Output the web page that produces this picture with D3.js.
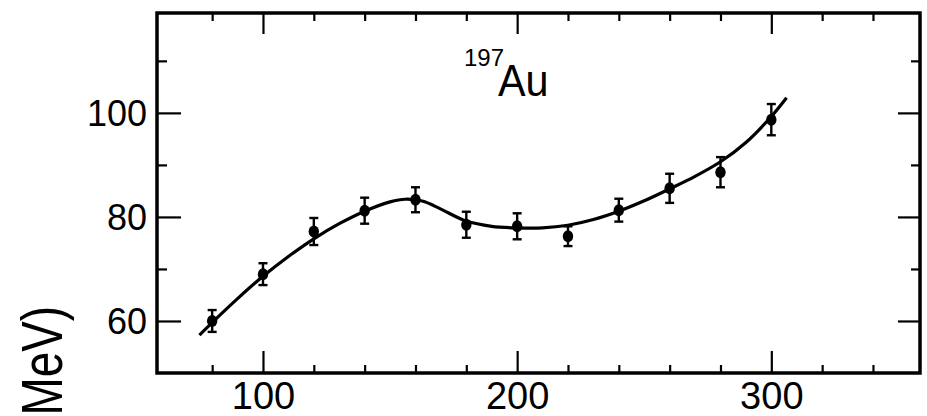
<!DOCTYPE html>
<html>
<head>
<script src="https://cdn.jsdelivr.net/npm/d3@7"></script>
<style>
  body { margin: 0; background: #fff; }
  text { font-family: "Liberation Sans", Arial, sans-serif; fill: #000; }
</style>
</head>
<body>
<script>
// measured points (x, value, error)
var xs   = [80, 100, 120, 140, 160, 180, 200, 220, 240, 260, 280, 300];
var vals = [60.0, 69.0, 77.2, 81.2, 83.3, 78.5, 78.2, 76.3, 81.3, 85.5, 88.6, 98.7];
var errs = [2.1, 2.1, 2.6, 2.5, 2.4, 2.5, 2.5, 1.9, 2.2, 2.8, 2.9, 3.0];

// fitted curve
var curveX = [75, 80, 90, 100, 110, 120, 130, 140, 150, 156, 163, 170, 180, 190, 200, 210, 220, 230, 240, 250, 260, 270, 280, 290, 300, 306];
var curveY = [57.3, 59.7, 64.3, 68.6, 72.4, 75.8, 78.7, 81.1, 82.9, 83.4, 83.0, 81.5, 79.2, 78.2, 77.9, 77.9, 78.4, 79.5, 81.1, 83.1, 85.4, 87.8, 90.6, 94.3, 99.3, 102.9];

var xTicks = [80, 100, 120, 140, 160, 180, 200, 220, 240, 260, 280, 300, 320, 340];
var xMajor = [100, 200, 300];
var yTicks = [60, 70, 80, 90, 100, 110];
var yMajor = [60, 80, 100];

var width = 927, height = 416;
var padL = 157, padR = 920, padT = 13, padB = 373;

var svg = d3.select("body").append("svg")
  .attr("width", width)
  .attr("height", height);

var x = d3.scaleLinear().domain([58.3, 358.5]).range([padL, padR]);
var y = d3.scaleLinear().domain([50, 119.2]).range([padB, padT]);

function styleAxis(g, majors, big, small, labels) {
  g.select(".domain").remove();
  g.selectAll(".tick line")
    .attr("stroke", "#000")
    .attr("stroke-width", 2.2);
  g.selectAll(".tick").each(function(d) {
    var len = majors.indexOf(d) >= 0 ? big : small;
    var ln = d3.select(this).select("line");
    if (ln.attr("y2") != null && +ln.attr("y2") !== 0) ln.attr("y2", (+ln.attr("y2") > 0 ? 1 : -1) * len);
    if (ln.attr("x2") != null && +ln.attr("x2") !== 0) ln.attr("x2", (+ln.attr("x2") > 0 ? 1 : -1) * len);
    if (!labels || majors.indexOf(d) < 0) d3.select(this).select("text").remove();
  });
}

// bottom
svg.append("g").attr("transform", "translate(0," + padB + ")")
  .call(d3.axisBottom(x).tickValues(xTicks).tickSize(-8).tickFormat(d3.format("d")))
  .call(function(g) {
    styleAxis(g, xMajor, 22, 8, true);
    g.selectAll("text").attr("y", 36).attr("dy", 0)
      .style("font-size", "38px").style("font-family", "Liberation Sans, Arial, sans-serif");
  });

// top
svg.append("g").attr("transform", "translate(0," + padT + ")")
  .call(d3.axisTop(x).tickValues(xTicks).tickSize(-8))
  .call(function(g) { styleAxis(g, xMajor, 21, 8, false); });

// left
svg.append("g").attr("transform", "translate(" + padL + ",0)")
  .call(d3.axisLeft(y).tickValues(yTicks).tickSize(-10).tickFormat(d3.format("d")))
  .call(function(g) {
    styleAxis(g, yMajor, 24, 10, true);
    g.selectAll("text").attr("x", -10).attr("dy", "0.36em")
      .style("font-size", "36px").style("font-family", "Liberation Sans, Arial, sans-serif");
  });

// right
svg.append("g").attr("transform", "translate(" + padR + ",0)")
  .call(d3.axisRight(y).tickValues(yTicks).tickSize(-9))
  .call(function(g) { styleAxis(g, yMajor, 22, 9, false); });

// frame
svg.append("rect")
  .attr("x", padL).attr("y", padT)
  .attr("width", padR - padL).attr("height", padB - padT)
  .attr("fill", "none").attr("stroke", "#000").attr("stroke-width", 3.5);

// curve
var line = d3.line()
  .x(function(d, i) { return x(curveX[i]); })
  .y(function(d) { return y(d); })
  .curve(d3.curveCatmullRom);

svg.append("path")
  .datum(curveY)
  .attr("d", line)
  .attr("fill", "none")
  .attr("stroke", "#000")
  .attr("stroke-width", 3.2);

// error bars + points
var pts = svg.append("g").selectAll("g")
  .data(xs)
  .enter().append("g");

pts.append("line")
  .attr("x1", function(d) { return x(d); })
  .attr("x2", function(d) { return x(d); })
  .attr("y1", function(d, i) { return y(vals[i] + errs[i]); })
  .attr("y2", function(d, i) { return y(vals[i] - errs[i]); })
  .attr("stroke", "#000").attr("stroke-width", 2.4);

[1, -1].forEach(function(s) {
  pts.append("line")
    .attr("x1", function(d) { return x(d) - 4.5; })
    .attr("x2", function(d) { return x(d) + 4.5; })
    .attr("y1", function(d, i) { return y(vals[i] + s * errs[i]); })
    .attr("y2", function(d, i) { return y(vals[i] + s * errs[i]); })
    .attr("stroke", "#000").attr("stroke-width", 2.4);
});

pts.append("ellipse")
  .attr("cx", function(d) { return x(d); })
  .attr("cy", function(d, i) { return y(vals[i]); })
  .attr("rx", 5.2).attr("ry", 6)
  .attr("fill", "#000");

// nucleus label
svg.append("text")
  .attr("x", 464).attr("y", 66)
  .style("font-size", "24px")
  .text("197");
svg.append("text")
  .attr("transform", "translate(498,96) scale(0.92,1)")
  .style("font-size", "45px")
  .text("Au");

// y axis title (mostly cut off)
svg.append("text")
  .attr("transform", "translate(62,306) rotate(-90) scale(0.79,1)")
  .attr("text-anchor", "end")
  .style("font-size", "58px")
  .text("E (MeV)");
</script>
</body>
</html>
